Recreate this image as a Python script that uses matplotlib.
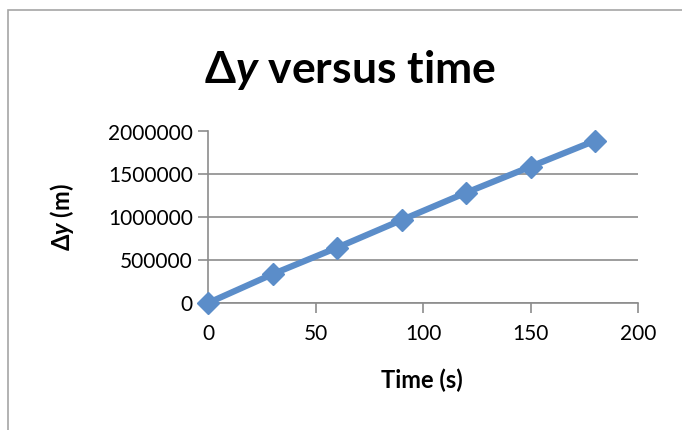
import matplotlib
matplotlib.use("Agg")
import matplotlib.pyplot as plt
from matplotlib.patches import Rectangle

plt.rcParams['font.family'] = ['Lato', 'DejaVu Sans']
plt.rcParams['mathtext.fontset'] = 'custom'
plt.rcParams['mathtext.rm'] = 'Lato:bold'
plt.rcParams['mathtext.it'] = 'Lato:italic:bold'
plt.rcParams['mathtext.bf'] = 'Lato:bold'

time_s = [0, 30, 60, 90, 120, 150, 180]
delta_y = [0, 336000, 645000, 967000, 1286000, 1590000, 1893000]
x_ticks = [0, 50, 100, 150, 200]
y_ticks = [0, 500000, 1000000, 1500000, 2000000]

W, H = 682, 430
fig = plt.figure(figsize=(W / 100, H / 100), dpi=100)
fig.patch.set_facecolor('white')

# outer chart border (left/top visible)
fig.patches.append(Rectangle((8 / W, -0.1), 1.2, 1 - 10 / H + 0.1, transform=fig.transFigure,
                             fill=False, edgecolor='#A6A6A6', linewidth=1.2))

ax = fig.add_axes([208 / W, 1 - 303 / H, (638 - 208) / W, (303 - 131.5) / H])
ax.plot(time_s, delta_y, color='#5B8DC9', linewidth=4.5, marker='D', markersize=11,
        markerfacecolor='#5B8DC9', markeredgecolor='#5B8DC9', clip_on=False, zorder=3)

ax.set_xlim(0, 200)
ax.set_ylim(0, 2000000)
ax.set_xticks(x_ticks)
ax.set_yticks(y_ticks)
ax.set_xticklabels([str(v) for v in x_ticks])
ax.set_yticklabels([str(v) for v in y_ticks])
ax.yaxis.grid(True, color='#8C8C8C', linewidth=1.2)
ax.set_axisbelow(True)
for s in ['top', 'right']:
    ax.spines[s].set_visible(False)
for s in ['left', 'bottom']:
    ax.spines[s].set_color('#8C8C8C')
    ax.spines[s].set_linewidth(1.2)
ax.tick_params(axis='both', direction='out', length=7, width=1.2, color='#8C8C8C',
               labelsize=15, labelcolor='black')
ax.tick_params(axis='x', pad=8)
ax.tick_params(axis='y', pad=4)

fig.text(350 / W, 1 - 70 / H, r"$\Delta y$ versus time", ha='center', va='center',
         fontsize=32, fontweight='bold')
fig.text(422 / W, 1 - 380 / H, "Time (s)", ha='center', va='center',
         fontsize=17, fontweight='bold')
fig.text(62 / W, 1 - 217 / H, r"$\Delta y$ (m)", ha='center', va='center',
         fontsize=17, fontweight='bold', rotation=90)

fig.savefig("out.png", dpi=100)
